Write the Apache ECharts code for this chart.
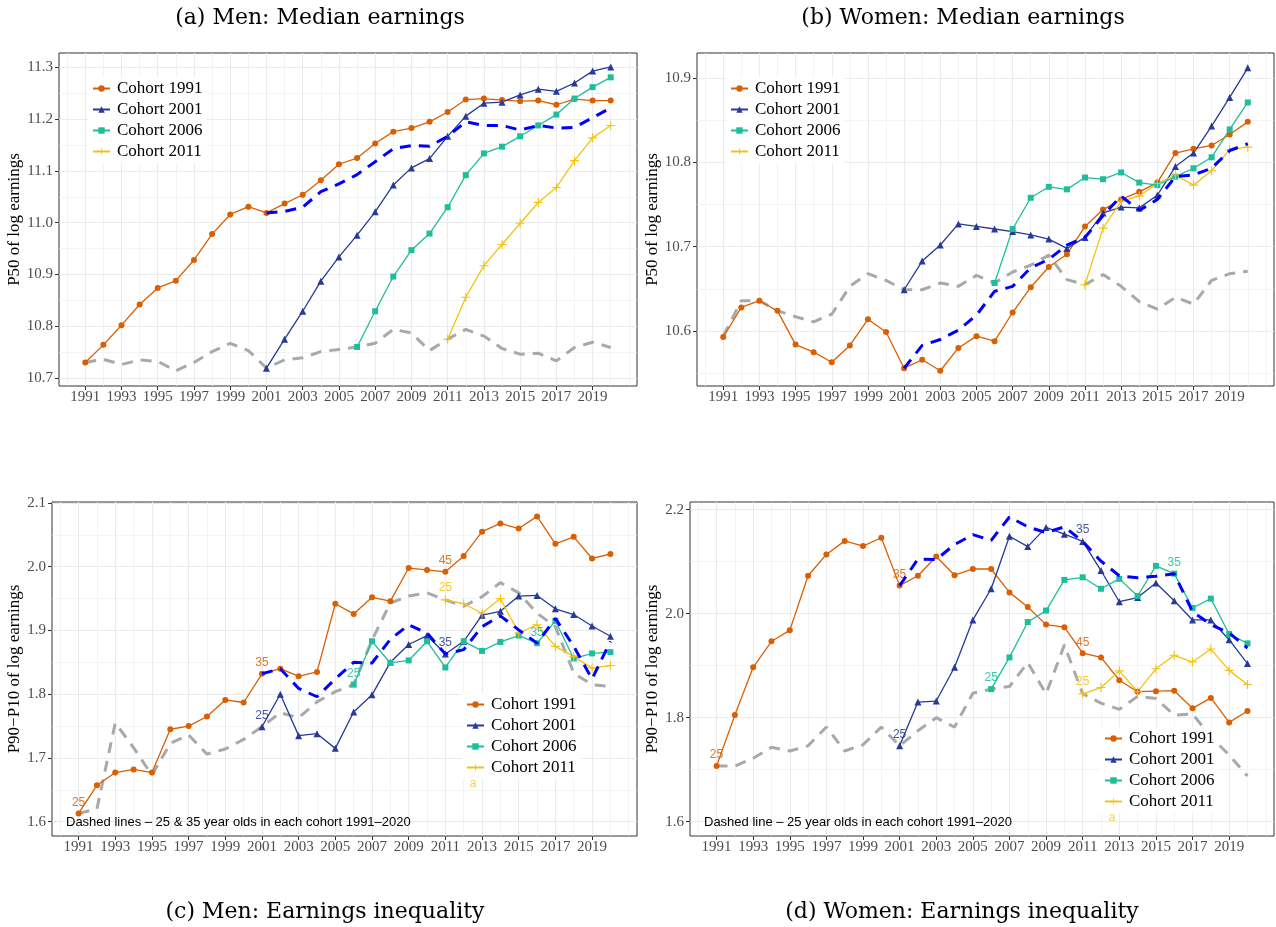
<!DOCTYPE html>
<html>
<head>
<meta charset="utf-8">
<script src="https://cdn.jsdelivr.net/npm/echarts@6/dist/echarts.min.js"></script>
<style>
  html, body { margin: 0; padding: 0; background: #fff; }
  #chart { width: 1276px; height: 927px; }
</style>
</head>
<body>
<div id="chart"></div>
<script>
// ---------- data ----------
const years = [1991,1992,1993,1994,1995,1996,1997,1998,1999,2000,2001,2002,2003,2004,2005,
               2006,2007,2008,2009,2010,2011,2012,2013,2014,2015,2016,2017,2018,2019,2020];
const yearTicks = [1991,1993,1995,1997,1999,2001,2003,2005,2007,2009,2011,2013,2015,2017,2019];
const cohortNames = ['Cohort 1991', 'Cohort 2001', 'Cohort 2006', 'Cohort 2011'];
const cohortStart = [1991, 2001, 2006, 2011];
const age35Start = 2001;

// (a) Men: median of log earnings, each cohort series starts in its cohort year
const menP50_1991 = [10.730,10.764,10.802,10.842,10.874,10.888,10.928,10.978,11.016,11.031,
                     11.019,11.037,11.054,11.082,11.113,11.125,11.153,11.176,11.183,11.195,
                     11.214,11.238,11.240,11.237,11.235,11.236,11.228,11.239,11.236,11.236];
const menP50_2001 = [10.719,10.775,10.829,10.887,10.934,10.976,11.021,11.073,11.106,11.124,
                     11.167,11.206,11.231,11.233,11.247,11.258,11.254,11.270,11.293,11.301];
const menP50_2006 = [10.760,10.829,10.896,10.947,10.979,11.030,11.092,11.134,11.147,11.167,
                     11.188,11.209,11.240,11.262,11.281];
const menP50_2011 = [10.775,10.856,10.917,10.958,10.999,11.039,11.068,11.120,11.164,11.188];
const menP50_age35 = [11.019,11.022,11.030,11.060,11.075,11.093,11.118,11.143,11.149,11.148,
                      11.167,11.195,11.188,11.188,11.179,11.188,11.183,11.184,11.203,11.222];
const menP50_age25 = [10.730,10.736,10.726,10.735,10.732,10.714,10.730,10.751,10.767,10.753,
                      10.719,10.735,10.739,10.751,10.755,10.760,10.767,10.794,10.787,10.753,
                      10.775,10.794,10.781,10.757,10.746,10.748,10.733,10.759,10.769,10.759];
const menP50Ticks = [10.7, 10.8, 10.9, 11.0, 11.1, 11.2, 11.3];

// (b) Women: median of log earnings
const womenP50_1991 = [10.593,10.628,10.636,10.624,10.584,10.575,10.563,10.583,10.614,10.599,
                       10.556,10.566,10.553,10.580,10.594,10.588,10.622,10.652,10.676,10.691,
                       10.724,10.744,10.756,10.765,10.776,10.811,10.816,10.820,10.833,10.848];
const womenP50_2001 = [10.649,10.683,10.702,10.727,10.724,10.721,10.718,10.714,10.709,10.698,
                       10.711,10.740,10.747,10.746,10.761,10.795,10.811,10.843,10.877,10.912];
const womenP50_2006 = [10.657,10.721,10.758,10.771,10.768,10.782,10.780,10.788,10.776,10.773,
                       10.783,10.793,10.806,10.839,10.871];
const womenP50_2011 = [10.655,10.722,10.754,10.760,10.775,10.785,10.773,10.790,10.815,10.818];
const womenP50_age35 = [10.556,10.583,10.590,10.601,10.619,10.647,10.653,10.675,10.685,10.702,
                        10.711,10.737,10.760,10.743,10.756,10.783,10.785,10.793,10.814,10.822];
const womenP50_age25 = [10.594,10.636,10.636,10.624,10.617,10.611,10.620,10.653,10.668,10.660,
                        10.649,10.649,10.657,10.653,10.666,10.657,10.670,10.678,10.690,10.661,
                        10.655,10.667,10.653,10.635,10.626,10.640,10.632,10.660,10.668,10.671];
const womenP50Ticks = [10.6, 10.7, 10.8, 10.9];

// (c) Men: P90-P10 of log earnings
const menIneq_1991 = [1.613,1.657,1.677,1.682,1.677,1.745,1.750,1.765,1.791,1.787,
                      1.832,1.840,1.828,1.835,1.942,1.926,1.952,1.946,1.998,1.995,
                      1.992,2.017,2.055,2.068,2.060,2.079,2.036,2.047,2.013,2.020];
const menIneq_2001 = [1.749,1.800,1.735,1.738,1.715,1.772,1.799,1.850,1.878,1.892,
                      1.863,1.883,1.924,1.930,1.954,1.955,1.934,1.925,1.907,1.891];
const menIneq_2006 = [1.815,1.883,1.849,1.853,1.883,1.842,1.883,1.868,1.882,1.892,
                      1.880,1.915,1.856,1.864,1.866];
const menIneq_2011 = [1.948,1.942,1.927,1.950,1.896,1.909,1.875,1.859,1.841,1.845];
const menIneq_age35 = [1.832,1.840,1.809,1.796,1.824,1.850,1.849,1.886,1.909,1.896,
                       1.863,1.870,1.906,1.923,1.901,1.880,1.919,1.875,1.824,1.883];
const menIneq_age25 = [1.613,1.620,1.755,1.716,1.673,1.723,1.736,1.706,1.714,1.729,
                       1.749,1.771,1.763,1.788,1.804,1.815,1.885,1.943,1.954,1.959,
                       1.948,1.938,1.953,1.975,1.959,1.927,1.906,1.833,1.815,1.812];
const menIneqTicks = [1.6, 1.7, 1.8, 1.9, 2.0, 2.1];

// (d) Women: P90-P10 of log earnings
const womenIneq_1991 = [1.707,1.805,1.897,1.947,1.968,2.073,2.114,2.140,2.130,2.146,
                        2.054,2.073,2.110,2.074,2.086,2.086,2.041,2.013,1.979,1.974,
                        1.924,1.916,1.872,1.850,1.851,1.852,1.818,1.838,1.791,1.813];
const womenIneq_2001 = [1.746,1.830,1.832,1.897,1.988,2.048,2.149,2.129,2.166,2.153,
                        2.139,2.083,2.023,2.031,2.059,2.025,1.988,1.988,1.950,1.904];
const womenIneq_2006 = [1.855,1.916,1.984,2.006,2.065,2.070,2.048,2.067,2.034,2.092,
                        2.077,2.011,2.029,1.961,1.943];
const womenIneq_2011 = [1.846,1.858,1.890,1.850,1.894,1.920,1.907,1.932,1.891,1.864];
const womenIneq_age35 = [2.054,2.105,2.104,2.133,2.152,2.141,2.186,2.167,2.156,2.167,
                         2.139,2.101,2.073,2.069,2.072,2.077,2.004,1.979,1.963,1.934];
const womenIneq_age25 = [1.707,1.707,1.722,1.743,1.736,1.746,1.782,1.736,1.748,1.782,
                         1.746,1.775,1.800,1.782,1.847,1.855,1.860,1.906,1.846,1.940,
                         1.846,1.828,1.816,1.841,1.837,1.805,1.807,1.764,1.728,1.688];
const womenIneqTicks = [1.6, 1.8, 2.0, 2.2];

// Age labels written next to the cohort lines in the inequality panels (year -> text)
const ageLabels1991 = {1991: '25', 2001: '35', 2011: '45'};
const ageLabels2001 = {2001: '25', 2011: '35'};
const ageLabels2006 = {2006: '25', 2016: '35'};
const ageLabels2011 = {2011: '25'};

// ---------- styles ----------
const SERIF = 'Liberation Serif';
const SANS = 'Liberation Sans';
const cohortColors = ['#D95F02', '#263A96', '#1DBE9C', '#F5C20F'];
const plusPath = 'path://M4.4,0H5.6V4.4H10V5.6H5.6V10H4.4V5.6H0V4.4H4.4Z';
const cohortSymbols = ['circle', 'triangle', 'rect', plusPath];
const cohortSymbolSizes = [6, 7, 6, 9];
const X_MIN = 1989.55, X_MAX = 2021.45;
const TICK_FONT = 15;

const panels = [
  { grid: {left: 59, top: 53, width: 578, height: 333}, yRange: [10.6845, 11.328],
    ticks: menP50Ticks, yName: 'P50 of log earnings', nameGap: 31,
    cohorts: [menP50_1991, menP50_2001, menP50_2006, menP50_2011],
    age35: menP50_age35, age25: menP50_age25, labels: null, legendPos: [88, 77] },
  { grid: {left: 697, top: 53, width: 577, height: 333}, yRange: [10.5349, 10.9296],
    ticks: womenP50Ticks, yName: 'P50 of log earnings', nameGap: 31,
    cohorts: [womenP50_1991, womenP50_2001, womenP50_2006, womenP50_2011],
    age35: womenP50_age35, age25: womenP50_age25, labels: null, legendPos: [726, 77] },
  { grid: {left: 52, top: 502, width: 585, height: 334}, yRange: [1.5775, 2.1016],
    ticks: menIneqTicks, yName: 'P90\u2212P10 of log earnings', nameGap: 25,
    cohorts: [menIneq_1991, menIneq_2001, menIneq_2006, menIneq_2011],
    age35: menIneq_age35, age25: menIneq_age25,
    labels: [ageLabels1991, ageLabels2001, ageLabels2006, ageLabels2011], legendPos: [462, 693] },
  { grid: {left: 690, top: 502, width: 584, height: 334}, yRange: [1.5725, 2.2148],
    ticks: womenIneqTicks, yName: 'P90\u2212P10 of log earnings', nameGap: 24,
    cohorts: [womenIneq_1991, womenIneq_2001, womenIneq_2006, womenIneq_2011],
    age35: womenIneq_age35, age25: womenIneq_age25,
    labels: [ageLabels1991, ageLabels2001, ageLabels2006, ageLabels2011], legendPos: [1100, 727] }
];

// minor grid positions: midpoints between breaks, plus the break beyond the last one
function minorBetween(ticks, lo, hi) {
  const step = ticks[1] - ticks[0];
  const out = [];
  const ext = [ticks[0] - step].concat(ticks, [ticks[ticks.length - 1] + step]);
  for (let i = 0; i < ext.length - 1; i++) {
    const m = +((ext[i] + ext[i + 1]) / 2).toFixed(4);
    if (m >= lo && m <= hi) out.push(m);
  }
  ext.forEach(function (b) { if ((b < ticks[0] || b > ticks[ticks.length - 1]) && b >= lo && b <= hi) out.push(b); });
  return out;
}

function pointsFrom(start, values, labelMap, color) {
  return values.map(function (v, i) {
    const yr = start + i;
    const item = { value: [yr, v] };
    if (labelMap && labelMap[yr]) {
      item.label = { show: true, formatter: labelMap[yr], position: 'top', distance: 2,
                     color: color, opacity: 0.85, fontFamily: SANS, fontSize: 12 };
    }
    return item;
  });
}

const grids = [], xAxes = [], yAxes = [], series = [], legends = [];

panels.forEach(function (p, k) {
  grids.push(Object.assign({ show: true, borderColor: '#333', borderWidth: 1,
                             backgroundColor: '#fff', containLabel: false }, p.grid));
  const xMinor = minorBetween(yearTicks, X_MIN, X_MAX);
  const yMinor = minorBetween(p.ticks, p.yRange[0], p.yRange[1]);

  xAxes.push({
    type: 'value', gridIndex: k, min: X_MIN, max: X_MAX, position: 'bottom',
    axisLine: { show: false },
    axisTick: { show: true, customValues: yearTicks, length: 4, lineStyle: { color: '#333', width: 1 } },
    axisLabel: { customValues: yearTicks, color: '#4D4D4D', fontFamily: SERIF, fontSize: TICK_FONT, margin: 4,
                 formatter: function (v) { return String(Math.round(v)); } },
    splitLine: { show: true, lineStyle: { color: '#EBEBEB', width: 1.1 } }
  });
  xAxes.push({
    type: 'value', gridIndex: k, min: X_MIN, max: X_MAX, position: 'top',
    axisLine: { show: false }, axisLabel: { show: false },
    axisTick: { show: false, customValues: xMinor },
    splitLine: { show: true, lineStyle: { color: '#EFEFEF', width: 0.7 } }
  });
  yAxes.push({
    type: 'value', gridIndex: k, min: p.yRange[0], max: p.yRange[1], position: 'left',
    name: p.yName, nameLocation: 'middle', nameGap: p.nameGap, nameRotate: 90,
    nameTextStyle: { fontFamily: SERIF, fontSize: 17, color: '#000' },
    axisLine: { show: false },
    axisTick: { show: true, customValues: p.ticks, length: 4, lineStyle: { color: '#333', width: 1 } },
    axisLabel: { customValues: p.ticks, color: '#4D4D4D', fontFamily: SERIF, fontSize: TICK_FONT, margin: 6,
                 formatter: function (v) { return v.toFixed(1); } },
    splitLine: { show: true, lineStyle: { color: '#EBEBEB', width: 1.1 } }
  });
  yAxes.push({
    type: 'value', gridIndex: k, min: p.yRange[0], max: p.yRange[1], position: 'right',
    axisLine: { show: false }, axisLabel: { show: false },
    axisTick: { show: false, customValues: yMinor },
    splitLine: { show: true, lineStyle: { color: '#EFEFEF', width: 0.7 } }
  });

  const xi = k * 2, yi = k * 2;
  // 25-year-olds in each year
  series.push({
    type: 'line', name: 'Age 25', xAxisIndex: xi, yAxisIndex: yi, z: 2,
    data: pointsFrom(years[0], p.age25, null), showSymbol: false, symbol: 'none',
    lineStyle: { color: '#A9A9A9', width: 3, type: [11, 8] }, silent: true
  });
  p.cohorts.forEach(function (vals, c) {
    series.push({
      type: 'line', name: cohortNames[c], xAxisIndex: xi, yAxisIndex: yi, z: 3,
      data: pointsFrom(cohortStart[c], vals, p.labels ? p.labels[c] : null, cohortColors[c]),
      symbol: cohortSymbols[c], symbolSize: cohortSymbolSizes[c], showAllSymbol: true,
      color: cohortColors[c],
      itemStyle: { color: cohortColors[c] },
      lineStyle: { color: cohortColors[c], width: 1.3 }, silent: true
    });
  });
  // 35-year-olds in each year
  series.push({
    type: 'line', name: 'Age 35', xAxisIndex: xi, yAxisIndex: yi, z: 4,
    data: pointsFrom(age35Start, p.age35, null), showSymbol: false, symbol: 'none',
    lineStyle: { color: '#0000FF', width: 3, type: [11, 8] }, silent: true
  });

  legends.push({
    left: p.legendPos[0], top: p.legendPos[1], orient: 'vertical', data: cohortNames,
    itemWidth: 17, itemHeight: 8, itemGap: 4, padding: [3, 4, 3, 4], backgroundColor: '#fff',
    selectedMode: false, z: 10,
    textStyle: { fontFamily: SERIF, fontSize: 17, lineHeight: 17, color: '#000', padding: [0, 0, 0, 2] }
  });
});

function label(x, y, text, style) {
  return { type: 'text', x: x, y: y, z: 20,
           style: Object.assign({ text: text, fill: '#000', fontFamily: SERIF, fontSize: 20,
                                  align: 'center', verticalAlign: 'middle' }, style || {}) };
}

const TITLE = { fontFamily: 'DejaVu Serif', fontSize: 22 };
const graphics = [
  label(320, 18, '(a) Men: Median earnings', TITLE),
  label(963, 18, '(b) Women: Median earnings', TITLE),
  label(325, 912, '(c) Men: Earnings inequality', TITLE),
  label(962, 912, '(d) Women: Earnings inequality', TITLE),
  label(66, 822, 'Dashed lines \u2013 25 & 35 year olds in each cohort 1991\u20132020',
        { fontFamily: SANS, fontSize: 13, align: 'left' }),
  label(704, 822, 'Dashed line \u2013 25 year olds in each cohort 1991\u20132020',
        { fontFamily: SANS, fontSize: 13, align: 'left' }),
  label(473, 784, 'a', { fontFamily: SANS, fontSize: 12, fill: 'rgba(245,194,15,0.75)' }),
  label(1112, 818, 'a', { fontFamily: SANS, fontSize: 12, fill: 'rgba(245,194,15,0.75)' })
];

const chart = echarts.init(document.getElementById('chart'), null, { renderer: 'canvas' });
chart.setOption({
  animation: false,
  backgroundColor: '#fff',
  grid: grids,
  xAxis: xAxes,
  yAxis: yAxes,
  legend: legends,
  series: series,
  graphic: graphics
});
</script>
</body>
</html>
